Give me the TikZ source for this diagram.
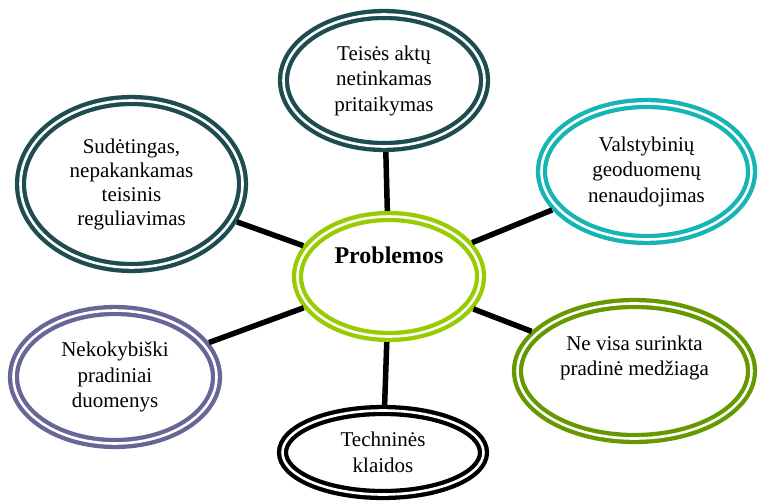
\documentclass[tikz,border=0pt]{standalone}
\usepackage{fontspec}
\setmainfont{Liberation Serif}
\usetikzlibrary{shapes.geometric}

\definecolor{darkteal}{RGB}{30,77,80}
\definecolor{seateal}{RGB}{23,180,182}
\definecolor{olivegreen}{RGB}{102,153,0}
\definecolor{slatepurple}{RGB}{102,102,153}
\definecolor{limegreen}{RGB}{153,204,0}

\begin{document}
\begin{tikzpicture}[x=1pt,y=-1pt,
  bubble/.style={ellipse,draw=#1,line width=11.2pt,postaction={draw=white,line width=2.6pt},
    inner sep=0pt,outer sep=5.6pt,align=center,font=\fontsize{21}{25.5}\selectfont},
  spoke/.style={line width=5.5pt}]
  \useasboundingbox (0,0) rectangle (759,502);

  \node[bubble=limegreen,minimum width=183pt,minimum height=120pt,text depth=43pt,
    font=\fontsize{24}{28}\selectfont\bfseries] (problems) at (389,276.5) {Problemos};

  \node[bubble=darkteal,minimum width=201pt,minimum height=132pt] (misuse) at (384,80.5)
    {Teisės aktų\\netinkamas\\pritaikymas};
  \node[bubble=darkteal,minimum width=222pt,minimum height=167pt,
    font=\fontsize{21}{24}\selectfont] (regulation) at (131.5,184)
    {Sudėtingas,\\nepakankamas\\teisinis\\reguliavimas};
  \node[bubble=seateal,minimum width=210pt,minimum height=136pt] (geodata) at (646.5,171.5)
    {Valstybinių\\geoduomenų\\nenaudojimas};
  \node[bubble=olivegreen,minimum width=234pt,minimum height=135pt,text depth=31pt]
    (material) at (634.5,371) {Ne visa surinkta\\pradinė medžiaga};
  \node[bubble=slatepurple,minimum width=203pt,minimum height=133pt] (quality) at (115,377)
    {Nekokybiški\\pradiniai\\duomenys};
  \node[bubble=black,minimum width=201pt,minimum height=84pt] (errors) at (383,452.5)
    {Techninės\\klaidos};

  \draw[spoke] (problems) -- (misuse);
  \draw[spoke] (problems) -- (regulation);
  \draw[spoke] (problems) -- (geodata);
  \draw[spoke] (problems) -- (material);
  \draw[spoke] (problems) -- (quality);
  \draw[spoke] (problems) -- (errors);
\end{tikzpicture}
\end{document}
